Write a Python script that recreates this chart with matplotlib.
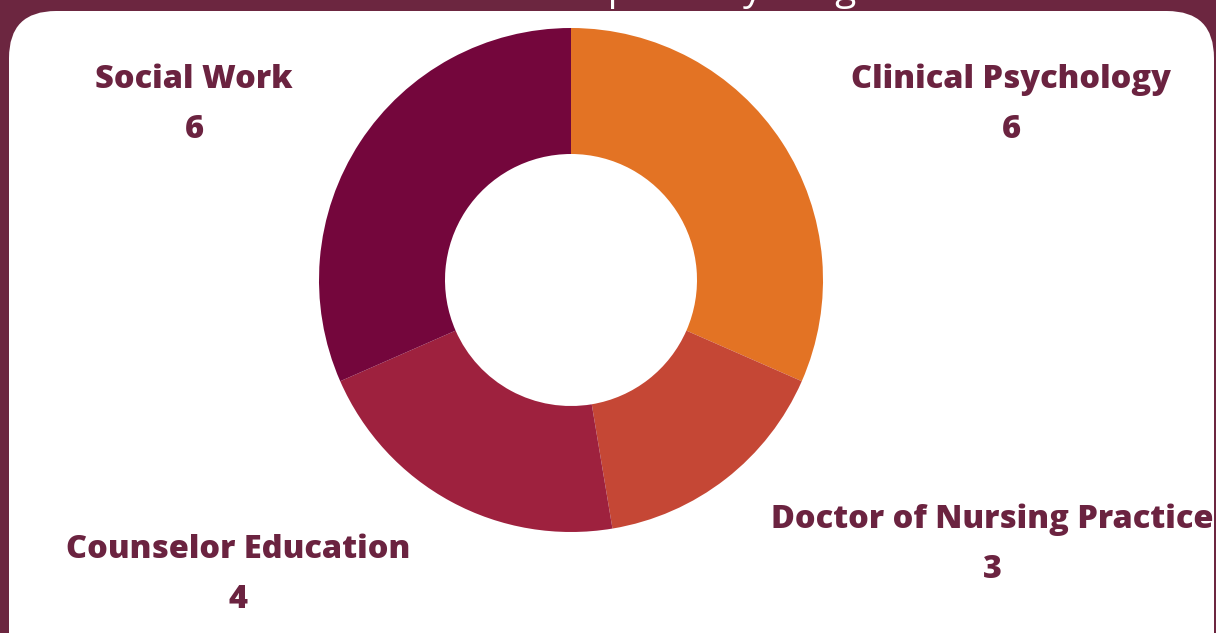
import matplotlib.pyplot as plt
from matplotlib.patches import FancyBboxPatch

# program counts, clockwise from 12 o'clock
programs = ["Clinical Psychology", "Doctor of Nursing Practice", "Counselor Education", "Social Work"]
counts = [6, 3, 4, 6]
colors = ["#E37324", "#C54735", "#9E213E", "#74063C"]

title = "Participants by Program"
BG = "#6C2640"
TXT = "#6B2340"
W, H = 1216, 633

plt.rcParams['font.family'] = ['Open Sans', 'DejaVu Sans']

fig = plt.figure(figsize=(W / 100, H / 100), dpi=100, facecolor=BG)

# background axes in pixel coords
bg = fig.add_axes([0, 0, 1, 1])
bg.set_xlim(0, W)
bg.set_ylim(H, 0)
bg.axis("off")
panel = FancyBboxPatch((9, 11), 1205, 680, boxstyle="round,pad=0,rounding_size=47",
                       facecolor="white", edgecolor="none")
bg.add_patch(panel)

# title sits above the top edge, only descenders peek through
bg.text(495, 0, title, color="white", fontsize=28, ha="left", va="baseline")

# donut
cx, cy, r = 571, 280, 252
ax = fig.add_axes([(cx - r) / W, (H - cy - r) / H, 2 * r / W, 2 * r / H])
ax.pie(counts, colors=colors, startangle=90, counterclock=False,
       wedgeprops=dict(width=0.5, linewidth=0))
ax.set_xlim(-1, 1)
ax.set_ylim(-1, 1)
ax.set_aspect("equal")
ax.axis("off")

# labels: (x, y of name line) in pixels
label_pos = [(1011, 80), (992, 520), (238, 550), (194, 80)]
for name, val, (lx, ly) in zip(programs, counts, label_pos):
    bg.text(lx, ly, name, color=TXT, fontsize=23.4, fontweight="heavy", ha="center", va="center")
    bg.text(lx, ly + 50, str(val), color=TXT, fontsize=23.4, fontweight="heavy", ha="center", va="center")

fig.savefig("out.png", dpi=100, facecolor=BG)
plt.close()
